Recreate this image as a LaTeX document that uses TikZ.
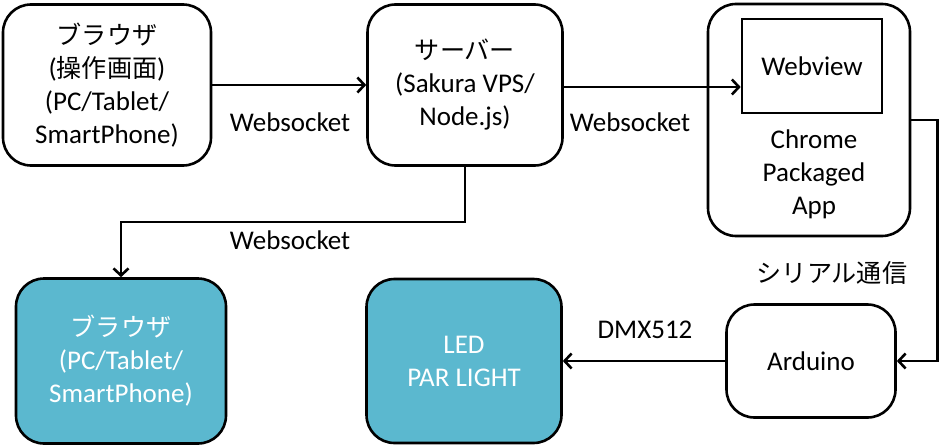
\documentclass[tikz,border=0pt]{standalone}
\usepackage{fontspec}
\setmainfont{Carlito}
\newfontfamily\jp[Scale=0.93]{Noto Sans CJK JP}
\usetikzlibrary{arrows.meta}
\definecolor{devcyan}{RGB}{91,184,207}
\tikzset{
  blk/.style={draw, rounded corners=28pt, line width=2.6pt, align=center, font=\fontsize{27}{33}\selectfont},
  dev/.style={blk, fill=devcyan, text=white},
  lbl/.style={font=\fontsize{27}{33}\selectfont, align=center},
}

\begin{document}
\begin{tikzpicture}[x=1pt, y=-1pt, >={Straight Barb[length=7pt,width=15pt]}, line width=2.6pt]
\useasboundingbox (0,0) rectangle (944,447);
% top row
\node[blk, minimum width=208pt, minimum height=161pt] (ctl) at (107,85) {{\jp ブラウザ}\\({\jp 操作画面})\\(PC/Tablet/\\SmartPhone)};
\node[blk, minimum width=195pt, minimum height=161pt] (srv) at (465,85) {{\jp サーバー}\\(Sakura VPS/\\Node.js)};
\node[blk, minimum width=202pt, minimum height=232pt] (app) at (809,120) {};
\node[draw, rectangle, lbl, line width=2.6pt, minimum width=140pt, minimum height=94pt] (web) at (812,66) {Webview};
\node[lbl] (applbl) at (814,174) {Chrome\\Packaged\\App};
% bottom row
\node[dev, minimum width=210pt, minimum height=165pt] (view) at (121,361) {{\jp ブラウザ}\\(PC/Tablet/\\SmartPhone)};
\node[dev, minimum width=195pt, minimum height=164pt] (led) at (464,361) {LED\\PAR LIGHT};
\node[blk, minimum width=169pt, minimum height=113pt] (ard) at (811,361) {Arduino};
% connectors
\draw[->] (ctl) -- (srv);
\draw[->] (srv.east |- 0,87) -- (web.west |- 0,87);
\draw[->] (srv.south) -- ++(0,55) -| (view.north);
\draw[->] (app.east) -- ++(26,0) |- (ard.east);
\draw[->] (ard) -- (led);
% labels
\node[lbl] (ws1) at (290,122) {Websocket};
\node[lbl] (ws2) at (630,122) {Websocket};
\node[lbl] (ws3) at (290,240) {Websocket};
\node[lbl] (ser) at (832,273) {\jp シリアル通信};
\node[lbl] (dmx) at (645,330) {DMX512};
\end{tikzpicture}
\end{document}
